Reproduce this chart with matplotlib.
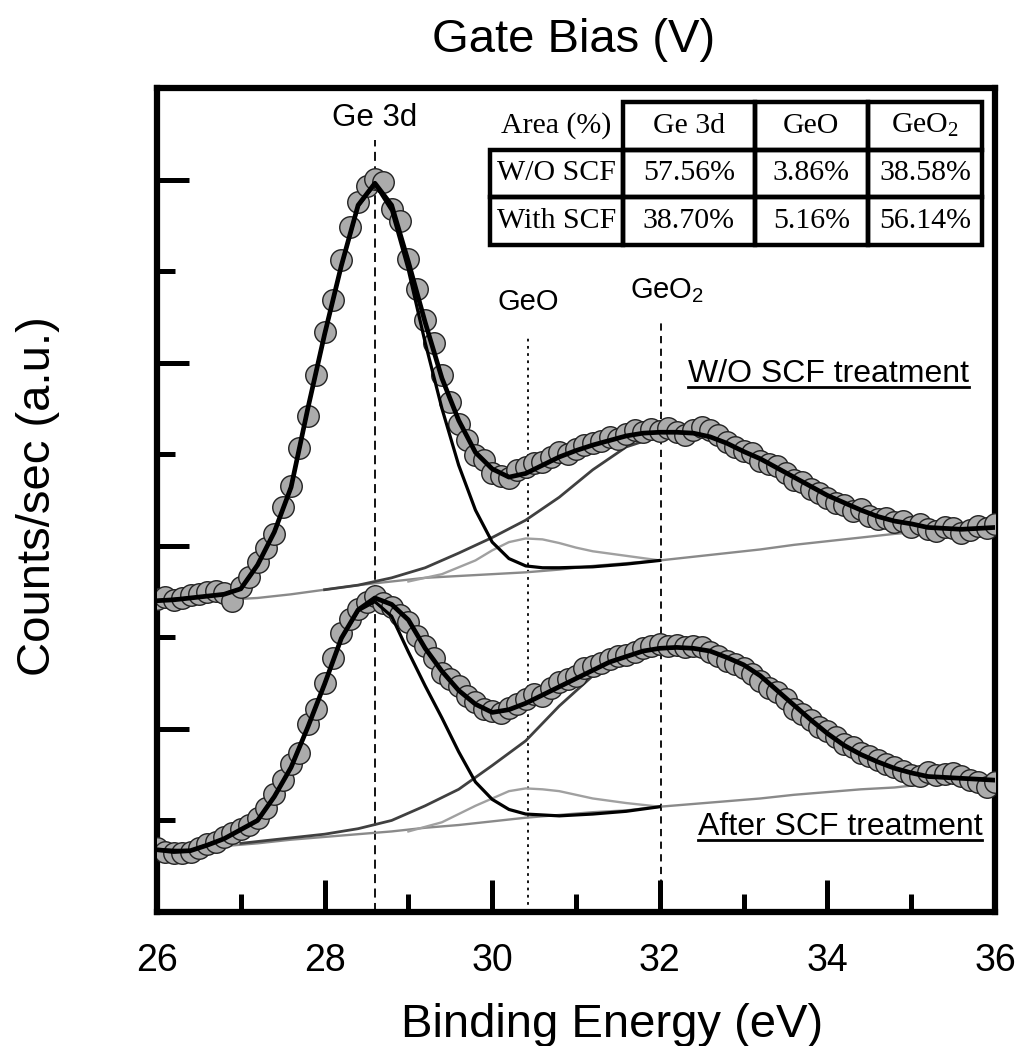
#!/usr/bin/env python3
# -*- coding: utf-8 -*-
"""
XPS Ge 3d spectra with peak fitting, with and without SCF treatment.
Saves the figure as out.png.
"""

import numpy as np
import matplotlib
matplotlib.use("Agg")
import matplotlib.pyplot as plt
from matplotlib.lines import Line2D
from matplotlib.ticker import MultipleLocator

plt.rcParams["font.family"] = ["Liberation Sans", "DejaVu Sans"]
plt.rcParams["mathtext.default"] = "regular"

# ============== DATA ============== #
# scan grid (0.1 eV) and fit grid (0.2 eV), 26 -> 36 eV
ENERGY = np.arange(260, 361) / 10.0
ENERGY_FIT = np.arange(130, 181) / 5.0

# measured points, W/O SCF treatment (upper spectrum)
DATA_WO = [3.42, 3.44, 3.41, 3.43, 3.46, 3.47, 3.50, 3.51, 3.48, 3.40,
           3.55, 3.66, 3.82, 3.98, 4.13, 4.42, 4.65, 5.07, 5.42, 5.87,
           6.33, 6.68, 7.12, 7.48, 7.76, 7.93, 8.01, 7.97, 7.68, 7.55,
           7.13, 6.81, 6.47, 6.21, 5.86, 5.57, 5.33, 5.15, 4.99, 4.94,
           4.80, 4.76, 4.74, 4.83, 4.86, 4.90, 4.92, 4.97, 5.02, 5.00,
           5.06, 5.10, 5.12, 5.14, 5.19, 5.17, 5.22, 5.26, 5.24, 5.28,
           5.25, 5.29, 5.24, 5.21, 5.27, 5.30, 5.26, 5.21, 5.13, 5.08,
           5.04, 5.01, 4.93, 4.89, 4.87, 4.79, 4.72, 4.70, 4.62, 4.58,
           4.52, 4.47, 4.44, 4.38, 4.40, 4.33, 4.29, 4.30, 4.26, 4.27,
           4.21, 4.24, 4.18, 4.16, 4.21, 4.19, 4.14, 4.17, 4.22, 4.19,
           4.24]

# measured points, after SCF treatment (lower spectrum)
DATA_SCF = [0.70, 0.66, 0.64, 0.64, 0.65, 0.70, 0.74, 0.77, 0.82, 0.86,
            0.91, 0.95, 1.03, 1.14, 1.29, 1.44, 1.62, 1.74, 2.05, 2.22,
            2.50, 2.77, 3.05, 3.20, 3.31, 3.39, 3.45, 3.37, 3.33, 3.24,
            3.17, 3.02, 2.90, 2.77, 2.61, 2.55, 2.47, 2.36, 2.29, 2.22,
            2.19, 2.17, 2.23, 2.27, 2.33, 2.38, 2.36, 2.45, 2.51, 2.55,
            2.58, 2.66, 2.69, 2.72, 2.76, 2.80, 2.81, 2.84, 2.88, 2.91,
            2.93, 2.90, 2.92, 2.89, 2.91, 2.89, 2.84, 2.80, 2.74, 2.71,
            2.66, 2.60, 2.52, 2.45, 2.40, 2.33, 2.22, 2.16, 2.10, 2.02,
            1.98, 1.91, 1.84, 1.80, 1.74, 1.70, 1.66, 1.62, 1.58, 1.54,
            1.50, 1.49, 1.53, 1.50, 1.51, 1.52, 1.48, 1.44, 1.42, 1.36,
            1.42]

# total fit envelopes on the 0.2 eV grid
FIT_WO = [3.40, 3.41, 3.43, 3.45, 3.47, 3.53, 3.79, 4.15, 4.64, 5.50,
          6.31, 7.06, 7.72, 7.96, 7.72, 7.10, 6.44, 5.83, 5.37, 5.02,
          4.84, 4.75, 4.79, 4.88, 4.97, 5.04, 5.10, 5.15, 5.20, 5.23,
          5.24, 5.24, 5.23, 5.19, 5.12, 5.03, 4.95, 4.85, 4.75, 4.65,
          4.55, 4.47, 4.39, 4.32, 4.27, 4.24, 4.20, 4.19, 4.18, 4.19,
          4.20]
FIT_SCF = [0.68, 0.66, 0.67, 0.73, 0.80, 0.90, 1.00, 1.26, 1.58, 2.02,
           2.49, 2.99, 3.30, 3.43, 3.36, 3.19, 2.88, 2.63, 2.42, 2.27,
           2.18, 2.21, 2.28, 2.37, 2.46, 2.55, 2.64, 2.73, 2.79, 2.85,
           2.88, 2.89, 2.88, 2.85, 2.78, 2.70, 2.58, 2.42, 2.26, 2.10,
           1.95, 1.82, 1.72, 1.64, 1.57, 1.52, 1.48, 1.47, 1.46, 1.45,
           1.44]

# background, W/O SCF
BG_WO_E = [26.0, 26.4, 26.8, 27.2, 27.6, 28.0, 28.4, 28.8, 29.2, 29.6,
           30.0, 30.4, 30.8, 31.2, 31.6, 32.0, 32.4, 32.8, 33.2, 33.6,
           34.0, 34.4, 34.8, 35.2, 35.6, 36.0]
BG_WO = [3.40, 3.40, 3.41, 3.43, 3.47, 3.52, 3.57, 3.61, 3.65, 3.67,
         3.69, 3.71, 3.74, 3.78, 3.81, 3.84, 3.88, 3.92, 3.96, 4.01,
         4.05, 4.09, 4.13, 4.16, 4.18, 4.20]

# Ge 3d component, W/O SCF
GE_WO_E = [26.0, 26.4, 26.8, 27.0, 27.2, 27.4, 27.6, 27.8, 28.0, 28.2,
           28.4, 28.6, 28.8, 29.0, 29.2, 29.4, 29.6, 29.8, 30.0, 30.2,
           30.4, 30.6, 30.8, 31.2, 31.6, 32.0]
GE_WO = [3.40, 3.43, 3.47, 3.53, 3.79, 4.15, 4.64, 5.50, 6.31, 7.06,
         7.71, 7.95, 7.66, 7.01, 6.22, 5.50, 4.88, 4.39, 4.04, 3.86,
         3.78, 3.76, 3.76, 3.77, 3.80, 3.84]

# GeO component, W/O SCF
GEO_WO_E = [29.0, 29.4, 29.8, 30.0, 30.2, 30.4, 30.6, 30.8, 31.0, 31.2,
            31.6, 32.0]
GEO_WO = [3.61, 3.69, 3.84, 3.95, 4.04, 4.08, 4.07, 4.03, 3.98, 3.94,
          3.89, 3.84]

# GeO2 component, W/O SCF
GEO2_WO_E = [28.0, 28.4, 28.8, 29.2, 29.6, 30.0, 30.4, 30.8, 31.2, 31.6,
             32.0, 32.4, 32.8, 33.2, 33.6, 34.0, 34.4, 34.8, 35.2, 35.6,
             36.0]
GEO2_WO = [3.52, 3.57, 3.65, 3.76, 3.92, 4.09, 4.28, 4.53, 4.83, 5.08,
           5.20, 5.22, 5.11, 4.95, 4.75, 4.55, 4.39, 4.27, 4.20, 4.18,
           4.20]

# background, after SCF
BG_SCF_E = [26.0, 26.4, 26.8, 27.2, 27.6, 28.0, 28.4, 28.8, 29.2, 29.6,
            30.0, 30.4, 30.8, 31.2, 31.6, 32.0, 32.4, 32.8, 33.2, 33.6,
            34.0, 34.4, 34.8, 35.2, 35.6, 36.0]
BG_SCF = [0.68, 0.69, 0.72, 0.75, 0.79, 0.82, 0.85, 0.88, 0.92, 0.95,
          0.99, 1.03, 1.06, 1.09, 1.11, 1.15, 1.18, 1.21, 1.24, 1.28,
          1.31, 1.34, 1.36, 1.40, 1.42, 1.44]

# Ge 3d component, after SCF
GE_SCF_E = [26.0, 26.4, 26.8, 27.0, 27.2, 27.4, 27.6, 27.8, 28.0, 28.2,
            28.4, 28.6, 28.8, 29.0, 29.2, 29.4, 29.6, 29.8, 30.0, 30.2,
            30.4, 30.8, 31.2, 31.6, 32.0]
GE_SCF = [0.68, 0.67, 0.80, 0.90, 1.00, 1.26, 1.58, 2.02, 2.49, 2.99,
          3.29, 3.39, 3.23, 2.84, 2.47, 2.12, 1.75, 1.42, 1.23, 1.12,
          1.07, 1.05, 1.07, 1.10, 1.15]

# GeO component, after SCF
GEO_SCF_E = [29.0, 29.4, 29.8, 30.0, 30.2, 30.4, 30.6, 30.8, 31.2, 31.6,
             32.0]
GEO_SCF = [0.88, 0.98, 1.16, 1.24, 1.32, 1.35, 1.34, 1.32, 1.24, 1.19,
           1.15]

# GeO2 component, after SCF
GEO2_SCF_E = [27.0, 27.6, 28.0, 28.4, 28.8, 29.2, 29.6, 30.0, 30.4, 30.8,
              31.2, 31.6, 32.0, 32.4, 32.8, 33.2, 33.6, 34.0, 34.4, 34.8,
              35.2, 35.6, 36.0]
GEO2_SCF = [0.75, 0.81, 0.85, 0.91, 1.00, 1.16, 1.34, 1.60, 1.87, 2.25,
            2.58, 2.76, 2.86, 2.88, 2.78, 2.58, 2.26, 1.95, 1.72, 1.57,
            1.48, 1.46, 1.44]

# peak reference positions (eV) and the height where each marker line stops
PEAK_NAMES = ["Ge 3d", "GeO", "GeO$_2$"]
PEAK_POS = [28.6, 30.43, 32.02]
PEAK_LINE_TOP = [8.43, 6.28, 6.46]

# area table
TABLE_HEADER = ["Area (%)", "Ge 3d", "GeO", "GeO$_2$"]
TABLE_ROWS = [["W/O SCF", "57.56%", "3.86%", "38.58%"],
              ["With SCF", "38.70%", "5.16%", "56.14%"]]
# ================================== #

W, H = 1035, 1046
fig = plt.figure(figsize=(W / 100, H / 100), dpi=100)
ax = fig.add_axes([157 / W, 1 - 912 / H, 838 / W, 824 / H])

# --- fit components (thin lines) ---
ax.plot(BG_WO_E, BG_WO, color="#8a8a8a", lw=1.7, zorder=2)
ax.plot(BG_SCF_E, BG_SCF, color="#8a8a8a", lw=1.7, zorder=2)
ax.plot(GEO_WO_E, GEO_WO, color="#a0a0a0", lw=1.7, zorder=2)
ax.plot(GEO_SCF_E, GEO_SCF, color="#a0a0a0", lw=1.7, zorder=2)
ax.plot(GEO2_WO_E, GEO2_WO, color="#404040", lw=2.0, zorder=2)
ax.plot(GEO2_SCF_E, GEO2_SCF, color="#404040", lw=2.0, zorder=2)

# --- measured points ---
for data in (DATA_WO, DATA_SCF):
    ax.plot(ENERGY, data, ls="none", marker="o", ms=15.5,
            mfc="#ababab", mec="#222222", mew=1.0, zorder=3)

# --- Ge 3d component and total envelope ---
ax.plot(GE_WO_E, GE_WO, color="black", lw=2.3, zorder=4)
ax.plot(GE_SCF_E, GE_SCF, color="black", lw=2.3, zorder=4)
ax.plot(ENERGY_FIT, FIT_WO, color="black", lw=3.4, zorder=5)
ax.plot(ENERGY_FIT, FIT_SCF, color="black", lw=3.4, zorder=5)

# --- peak position markers ---
styles = [(0, (5, 3)), (0, (1.5, 2.5)), (0, (4, 3))]
for pos, top, ls in zip(PEAK_POS, PEAK_LINE_TOP, styles):
    ax.vlines(pos, 0, top, colors="black", lw=1.3, linestyles=[ls], zorder=1)

ax.text(PEAK_POS[0], 8.59, PEAK_NAMES[0], ha="center", va="baseline", fontsize=22.5)
ax.text(PEAK_POS[1], 6.57, PEAK_NAMES[1], ha="center", va="baseline", fontsize=21)
ax.text(31.65, 6.70, PEAK_NAMES[2], ha="left", va="baseline", fontsize=21)

# --- spectrum labels (underlined) ---
lab1 = ax.text(32.34, 5.79, "W/O SCF treatment", ha="left", va="baseline", fontsize=23)
lab2 = ax.text(32.45, 0.84, "After SCF treatment", ha="left", va="baseline", fontsize=23)

# --- axes formatting ---
ax.set_xlim(26, 36)
ax.set_ylim(0, 9.0)
ax.xaxis.set_major_locator(MultipleLocator(2))
ax.xaxis.set_minor_locator(MultipleLocator(1))
ax.yaxis.set_major_locator(MultipleLocator(2))
ax.yaxis.set_minor_locator(MultipleLocator(1))
ax.tick_params(which="both", direction="in", top=False, right=False, width=3.6, color="black")
ax.tick_params(which="major", length=23)
ax.tick_params(which="minor", length=13)
ax.tick_params(axis="x", labelsize=27, pad=22)
ax.tick_params(axis="y", labelleft=False)
for sp in ax.spines.values():
    sp.set_linewidth(4.5)

fig.text(574 / W, 1 - 52 / H, "Gate Bias (V)", ha="center", va="baseline", fontsize=34)
fig.text(612 / W, 1 - 1037 / H, "Binding Energy (eV)", ha="center", va="baseline", fontsize=34)
fig.text(38 / W, 1 - 496 / H, "Counts/sec (a.u.)", ha="center", va="center",
         rotation=90, fontsize=34)

# --- area table ---
x0, x1 = (490 - 157) / 838, (982 - 157) / 838
y0, y1 = (912 - 245) / 824, (912 - 102) / 824
tab = ax.table(cellText=[TABLE_HEADER] + TABLE_ROWS,
               colWidths=[0.270, 0.268, 0.230, 0.232],
               cellLoc="center", bbox=[x0, y0, x1 - x0, y1 - y0], zorder=6)
tab.auto_set_font_size(False)
tab.set_fontsize(21.5)
for (r, c), cell in tab.get_celld().items():
    cell.set_linewidth(3.2)
    cell.set_facecolor("none")
    cell.get_text().set_fontfamily(["Liberation Serif", "DejaVu Serif"])
    if r == 0 and c == 0:
        cell.visible_edges = "open"

# underline the two spectrum labels
fig.canvas.draw()
renderer = fig.canvas.get_renderer()
for t in (lab1, lab2):
    bb = t.get_window_extent(renderer)
    base = ax.transData.transform(t.get_position())[1] - 5
    (fx0, fy), (fx1, _) = fig.transFigure.inverted().transform([(bb.x0, base), (bb.x1, base)])
    fig.add_artist(Line2D([fx0, fx1], [fy, fy], transform=fig.transFigure,
                          color="black", lw=2.0))

fig.savefig("out.png", dpi=100)
